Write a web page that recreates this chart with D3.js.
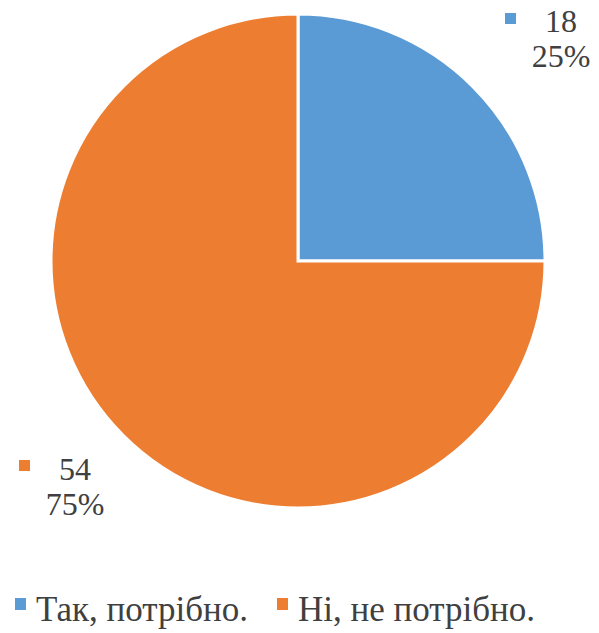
<!DOCTYPE html>
<html>
<head>
<meta charset="utf-8">
<script src="https://cdn.jsdelivr.net/npm/d3@7"></script>
<style>
  body { margin: 0; background: #fff; }
</style>
</head>
<body>
<script>
// data
var categories = ["Так, потрібно.", "Ні, не потрібно."];
var counts = [18, 54];
var percents = ["25%", "75%"];
var colors = ["#5b9bd5", "#ed7d31"];

var w = 599, h = 633;
var cx = 298, cy = 261, r = 247;
var font = "'Liberation Serif', 'Times New Roman', 'DejaVu Serif', serif";

var svg = d3.select("body").append("svg")
    .attr("width", w)
    .attr("height", h);

var pie = d3.pie().sort(null).value(function(d) { return d; });
var arc = d3.arc().innerRadius(0).outerRadius(r);

var g = svg.append("g").attr("transform", "translate(" + cx + "," + cy + ")");

g.selectAll("path")
    .data(pie(counts))
    .enter()
    .append("path")
    .attr("d", arc)
    .attr("fill", function(d, i) { return colors[i]; })
    .attr("stroke", "#fff")
    .attr("stroke-width", 3);

// data labels (placed outside, as in the original)
var labelPos = [
  { mx: 505, my: 13, tx: 561, ty: 32 },
  { mx: 19, my: 460, tx: 75, ty: 480 }
];

var lbl = svg.selectAll("g.lbl")
    .data(counts)
    .enter()
    .append("g")
    .attr("class", "lbl");

lbl.append("rect")
    .attr("x", function(d, i) { return labelPos[i].mx; })
    .attr("y", function(d, i) { return labelPos[i].my; })
    .attr("width", 11)
    .attr("height", 11)
    .attr("fill", function(d, i) { return colors[i]; });

lbl.append("text")
    .attr("x", function(d, i) { return labelPos[i].tx; })
    .attr("y", function(d, i) { return labelPos[i].ty; })
    .attr("text-anchor", "middle")
    .attr("font-family", font)
    .attr("font-size", 32)
    .attr("fill", "#404040")
    .text(function(d) { return d; });

lbl.append("text")
    .attr("x", function(d, i) { return labelPos[i].tx; })
    .attr("y", function(d, i) { return labelPos[i].ty + 35; })
    .attr("text-anchor", "middle")
    .attr("font-family", font)
    .attr("font-size", 32)
    .attr("fill", "#404040")
    .text(function(d, i) { return percents[i]; });

// legend
var legX = [15, 277];
var leg = svg.selectAll("g.leg")
    .data(categories)
    .enter()
    .append("g")
    .attr("class", "leg")
    .attr("transform", function(d, i) { return "translate(" + legX[i] + ",598)"; });

leg.append("rect")
    .attr("width", 11)
    .attr("height", 12)
    .attr("fill", function(d, i) { return colors[i]; });

leg.append("text")
    .attr("x", 21)
    .attr("y", 23)
    .attr("font-family", font)
    .attr("font-size", 35)
    .attr("fill", "#404040")
    .text(function(d) { return d; });
</script>
</body>
</html>
